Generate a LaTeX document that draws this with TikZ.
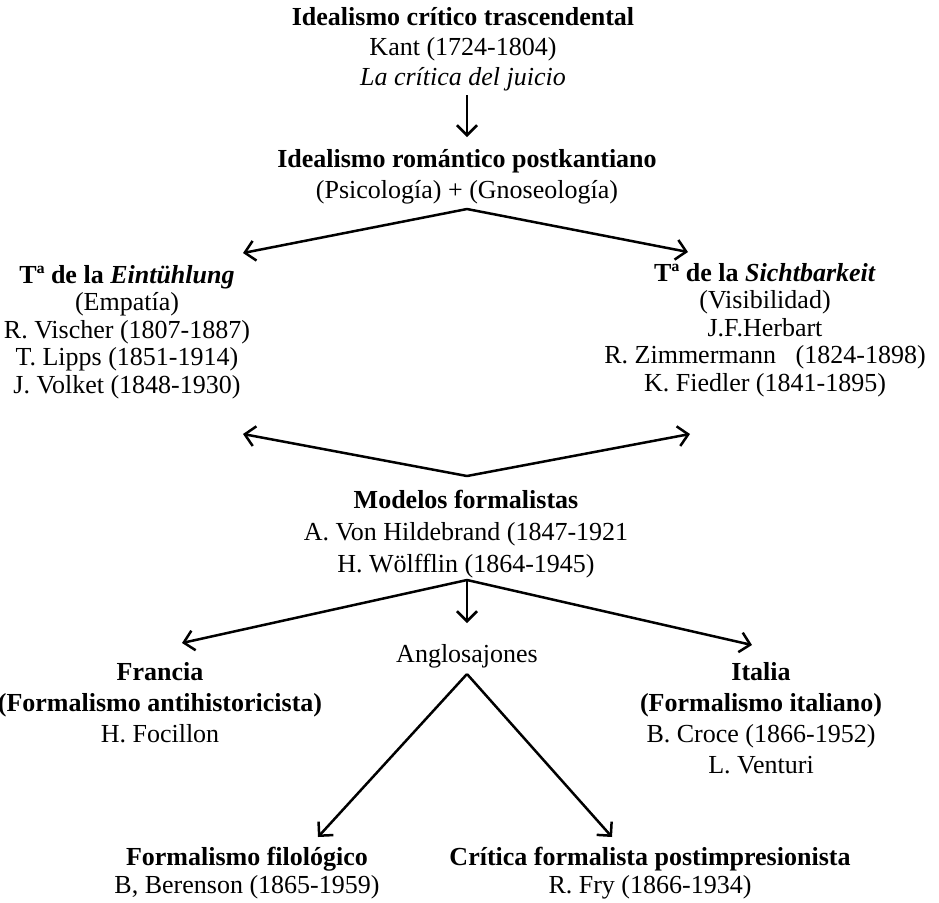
\documentclass[tikz,border=0pt]{standalone}
\usepackage{fontspec}
\setmainfont{Liberation Serif}
\usetikzlibrary{arrows.meta}

\begin{document}
\begin{tikzpicture}[x=0.5pt,y=-0.5pt,
	block/.style={align=center,inner sep=0pt,anchor=north,font=\fontsize{13}{#1}\selectfont},
	block/.default=13.75pt,
	link/.style={-{Straight Barb[length=5pt,width=10pt]},line width=1.25pt}]
		\useasboundingbox (0,0) rectangle (939,902);
		%%%
		\node[block=15pt] (kant) at (463,7) {\textbf{Idealismo crítico trascendental}\\Kant (1724-1804)\\\textit{La crítica del juicio}};
		\node[block=15.5pt] (roman) at (467,149) {\textbf{Idealismo romántico postkantiano}\\(Psicología) + (Gnoseología)};
		\node[block] (eint) at (127,265) {\textbf{Tª de la \textit{Eintühlung}}\\(Empatía)\\R. Vischer (1807-1887)\\T. Lipps (1851-1914)\\J. Volket (1848-1930)};
		\node[block] (sicht) at (765,263) {\textbf{Tª de la \textit{Sichtbarkeit}}\\(Visibilidad)\\J.F.Herbart\\R. Zimmermann\ \ \ (1824-1898)\\K. Fiedler (1841-1895)};
		\node[block=16pt] (modelos) at (466,490) {\textbf{Modelos formalistas}\\A. Von Hildebrand (1847-1921\\H. Wölfflin (1864-1945)};
		\node[block] (anglo) at (467,644) {Anglosajones};
		\node[block=15.5pt] (francia) at (160,662) {\textbf{Francia}\\\textbf{(Formalismo antihistoricista)}\\H. Focillon};
		\node[block=15.5pt] (italia) at (761,662) {\textbf{Italia}\\\textbf{(Formalismo italiano)}\\B. Croce (1866-1952)\\L. Venturi};
		\node[block=14pt] (filol) at (247,847) {\textbf{Formalismo filológico}\\B, Berenson (1865-1959)};
		\node[block=14pt] (fry) at (650,847) {\textbf{Crítica formalista postimpresionista}\\R. Fry (1866-1934)};
		%%%
		\coordinate (kant-out) at (467,95);
		\coordinate (roman-in) at (467,137);
		\coordinate (roman-out) at (467,209);
		\coordinate (eint-in) at (243,253);
		\coordinate (sicht-in) at (688,252);
		\coordinate (modelos-in) at (467,476);
		\coordinate (eint-back) at (243,434);
		\coordinate (sicht-back) at (690,434);
		\coordinate (modelos-out) at (467,580);
		\coordinate (anglo-in) at (467,623);
		\coordinate (francia-in) at (182,643);
		\coordinate (italia-in) at (752,645);
		\coordinate (anglo-out) at (467,674);
		\coordinate (filol-in) at (318,837);
		\coordinate (fry-in) at (612,837);
		%%%
		\draw[link] (kant-out) -- (roman-in);
		\draw[link] (roman-out) -- (eint-in);
		\draw[link] (roman-out) -- (sicht-in);
		\draw[link] (modelos-in) -- (eint-back);
		\draw[link] (modelos-in) -- (sicht-back);
		\draw[link] (modelos-out) -- (anglo-in);
		\draw[link] (modelos-out) -- (francia-in);
		\draw[link] (modelos-out) -- (italia-in);
		\draw[link] (anglo-out) -- (filol-in);
		\draw[link] (anglo-out) -- (fry-in);
	\end{tikzpicture}
\end{document}
